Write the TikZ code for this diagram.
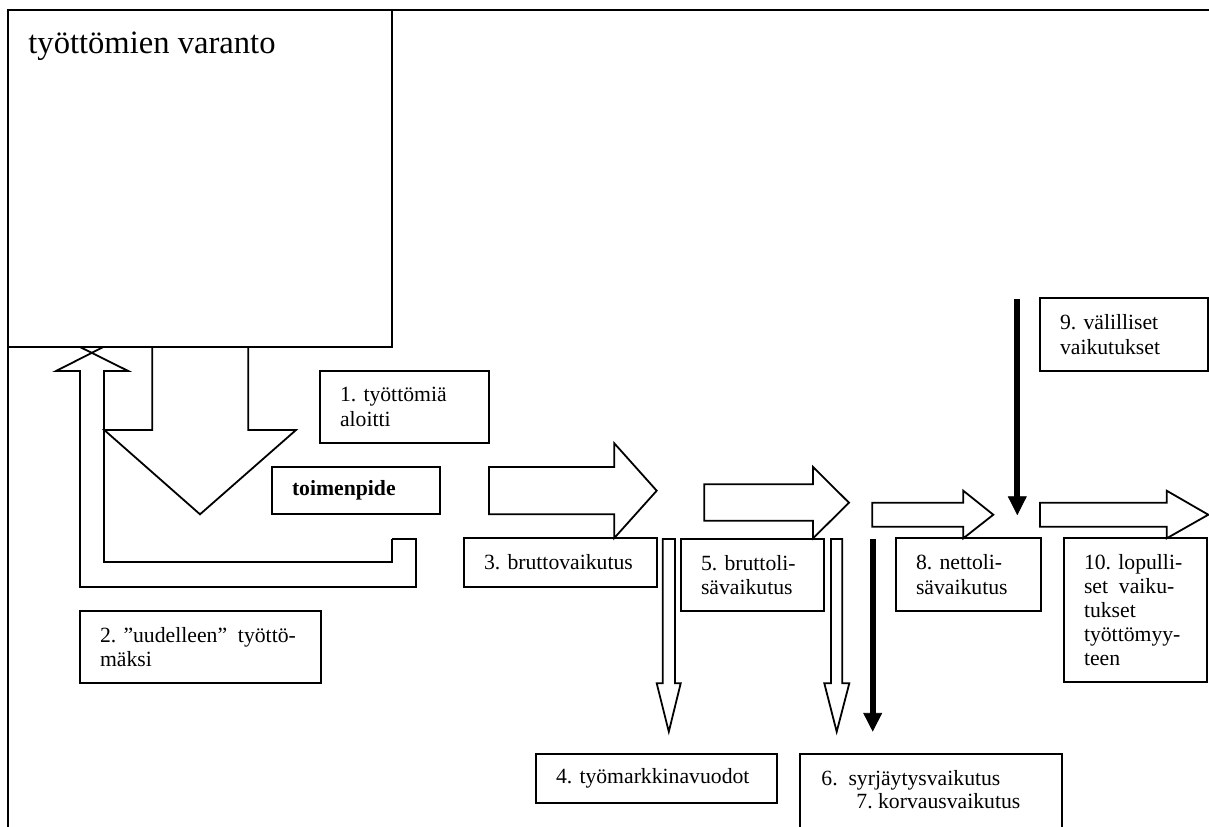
\documentclass[tikz,border=0pt]{standalone}
\usepackage{fontspec}
\setmainfont{Liberation Serif}
\frenchspacing
\newcommand\txtfont{\fontsize{10.85pt}{12.1pt}\selectfont\frenchspacing}
\newcommand\bigtxtfont{\fontsize{16.3pt}{19pt}\selectfont}
\tikzset{
  frameline/.style={line width=1.3pt},
  box/.style={draw, line width=1pt, outer sep=0pt, inner xsep=10pt, inner ysep=0pt,
              align=left, anchor=north west, font=\txtfont},
  plainbox/.style={draw, line width=1pt, outer sep=0pt, inner sep=0pt, anchor=north west},
  txt/.style={anchor=base west, inner sep=0pt, font=\txtfont},
  blockarrow/.style={draw, line width=0.9pt, line join=miter},
  thickline/.style={line width=3pt},
  thickhead/.style={fill=black, draw=black, line width=0.4pt},
}
\begin{document}
\begin{tikzpicture}[x=0.5pt, y=-0.5pt]
\fill[white] (0,0) rectangle (1209,826);
\useasboundingbox (0,0) rectangle (1209,826);

% outer frame
\draw[frameline] (8,840) -- (8,10) -- (1220,10);

% reservoir box
\node[plainbox, line width=1.1pt, minimum width=192pt, minimum height=168.5pt] (varanto) at (8,10) {};
\node[anchor=base west, inner sep=0pt, font=\bigtxtfont] (vartext) at (28,53) {työttömien varanto};

% boxes
\node[box, minimum width=84.5pt, minimum height=36pt, text width=64.5pt] (b1) at (320,371) {1. työttömiä\\aloitti};
\node[box, minimum width=84pt, minimum height=23.5pt, text width=64pt, font=\txtfont\bfseries] (toim) at (272,467) {toimenpide};
\node[box, minimum width=120.5pt, minimum height=36pt, text width=100.5pt] (b2) at (80,611) {2. ”uudelleen”\ \,työttö-\\mäksi};
\node[box, minimum width=96.5pt, minimum height=24.5pt, text width=76.5pt] (b3) at (464,538) {3. bruttovaikutus};
\node[box, minimum width=120.5pt, minimum height=24.5pt, text width=100.5pt] (b4) at (536,754) {4. työmarkkinavuodot};
\node[box, minimum width=71.5pt, minimum height=36pt, text width=51.5pt] (b5) at (681,539) {5. bruttoli-\\sävaikutus};
\node[box, minimum width=72.5pt, minimum height=36.5pt, text width=52.5pt] (b8) at (896,538) {8. nettoli-\\sävaikutus};
\node[box, minimum width=84pt, minimum height=36.5pt, text width=64pt] (b9) at (1040,298) {9. välilliset\\vaikutukset};
\node[box, minimum width=71.5pt, minimum height=72pt, text width=51.5pt] (b10) at (1064,538) {10. lopulli-\\set\ \,vaiku-\\tukset\\työttömyy-\\teen};
\node[plainbox, minimum width=131pt, minimum height=45pt] (b67) at (800,754) {};
\node[txt] (t6) at (821,785) {6.\ \ syrjäytysvaikutus};
\node[txt] (t7) at (856,808.5) {7. korvausvaikutus};

% return arrow (2) going up into the reservoir
\draw[blockarrow] (392,539) -- (416,539) -- (416,587) -- (80,587) -- (80,371) -- (56,371) -- (103.3,347);
\draw[blockarrow] (80,347) -- (128.3,371) -- (104,371) -- (104,562) -- (392,562) -- (392,539);

% down arrow (1) out of the reservoir
\draw[blockarrow] (152.3,347) -- (152.3,430) -- (104.3,430) -- (200,514.3) -- (296,430) -- (248.3,430) -- (248.3,347);

% right arrows
\draw[blockarrow] (489,467) -- (614.3,467) -- (614.3,443.3) -- (656.7,490.7) -- (614.3,538) -- (614.3,514.3) -- (489,514.3) -- cycle;
\draw[blockarrow] (704.3,484.3) -- (813,484.3) -- (813,467) -- (849,502.7) -- (813,538.3) -- (813,520.7) -- (704.3,520.7) -- cycle;
\draw[blockarrow] (872.3,502.7) -- (963.3,502.7) -- (963.3,490.7) -- (993.3,514.7) -- (963.3,538.3) -- (963.3,526.7) -- (872.3,526.7) -- cycle;
\draw[blockarrow] (1040,502.7) -- (1166.7,502.7) -- (1166.7,490.7) -- (1208.3,514.7) -- (1166.7,538.3) -- (1166.7,526.7) -- (1040,526.7) -- cycle;

% narrow hollow down arrows
\draw[blockarrow] (662.7,539) -- (675,539) -- (675,683.3) -- (680.7,683.3) -- (668.8,731.7) -- (656.7,683.3) -- (662.7,683.3) -- cycle;
\draw[blockarrow] (831,539) -- (842.3,539) -- (842.3,683.3) -- (849.3,683.3) -- (836.7,731.7) -- (824.3,683.3) -- (831,683.3) -- cycle;

% thick black arrows
\draw[thickline] (872.7,539) -- (872.7,714);
\fill[thickhead] (863.8,713.3) -- (881.6,713.3) -- (872.7,730.7) -- cycle;
\draw[thickline] (1017.3,299) -- (1017.3,497.5);
\fill[thickhead] (1008.4,496.7) -- (1026.2,496.7) -- (1017.3,514.3) -- cycle;
\end{tikzpicture}
\end{document}
